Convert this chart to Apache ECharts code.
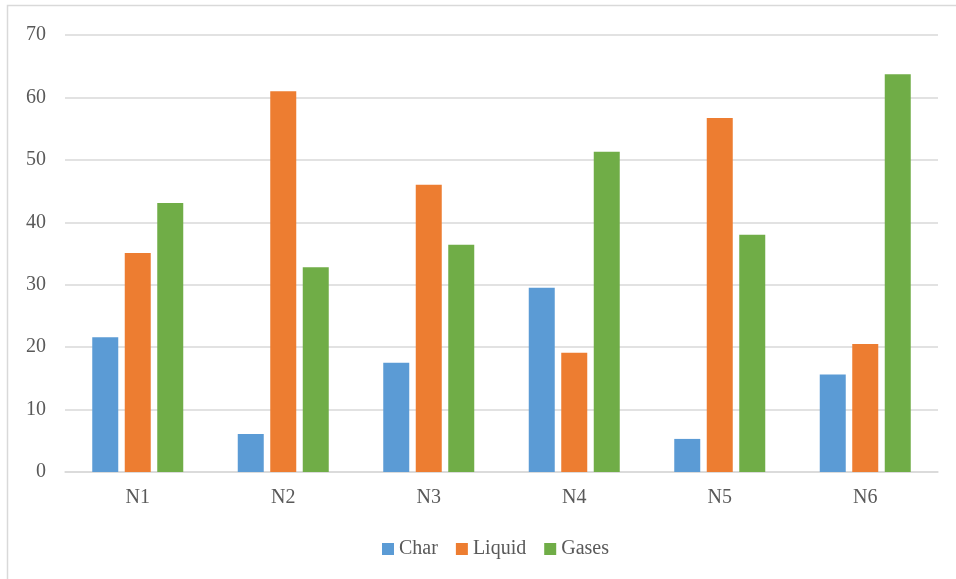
<!DOCTYPE html>
<html><head><meta charset="utf-8">
<script src="https://cdn.jsdelivr.net/npm/echarts@6/dist/echarts.min.js"></script>
<style>html,body{margin:0;padding:0;background:#fff}#c{width:956px;height:579px}</style>
</head><body><div id="c"></div>
<script>
const categories = ['N1','N2','N3','N4','N5','N6'];
const charVals = [21.6, 6.1, 17.5, 29.5, 5.3, 15.6];
const liquidVals = [35.1, 61.0, 46.0, 19.1, 56.7, 20.5];
const gasesVals = [43.1, 32.8, 36.4, 51.3, 38.0, 63.7];
const yTicks = [0,10,20,30,40,50,60,70];

const chart = echarts.init(document.getElementById('c'));
const font = 'Liberation Serif';
chart.setOption({
  animation: false,
  graphic: [{type:'rect', shape:{x:7.5,y:5.5,width:960,height:600}, style:{fill:'none', stroke:'#d9d9d9', lineWidth:1.5}, silent:true}],
  grid: {left:65, right:18, top:35, bottom:107, containLabel:false},
  legend: {top: 534, left:377, itemWidth:12, itemHeight:12, itemGap:18, icon:'rect',
    textStyle:{fontFamily:font, fontSize:20, color:'#595959'}, data:['Char','Liquid','Gases']},
  xAxis: {type:'category', data:categories, axisTick:{show:false},
    axisLine:{lineStyle:{color:'#d9d9d9', width:1.5}},
    axisLabel:{fontFamily:font, fontSize:20, color:'#595959', margin:16}},
  yAxis: {type:'value', min:0, max:70, interval:10,
    axisLine:{show:false}, axisTick:{show:false},
    splitLine:{lineStyle:{color:'#d9d9d9', width:1.5}},
    axisLabel:{fontFamily:font, fontSize:20, color:'#595959', margin:19}},
  series: [
    {name:'Char', type:'bar', data:charVals, barWidth:26, barGap:'25%', itemStyle:{color:'#5b9bd5'}},
    {name:'Liquid', type:'bar', data:liquidVals, barWidth:26, barGap:'25%', itemStyle:{color:'#ed7d31'}},
    {name:'Gases', type:'bar', data:gasesVals, barWidth:26, barGap:'25%', itemStyle:{color:'#70ad47'}}
  ]
});
</script></body></html>
